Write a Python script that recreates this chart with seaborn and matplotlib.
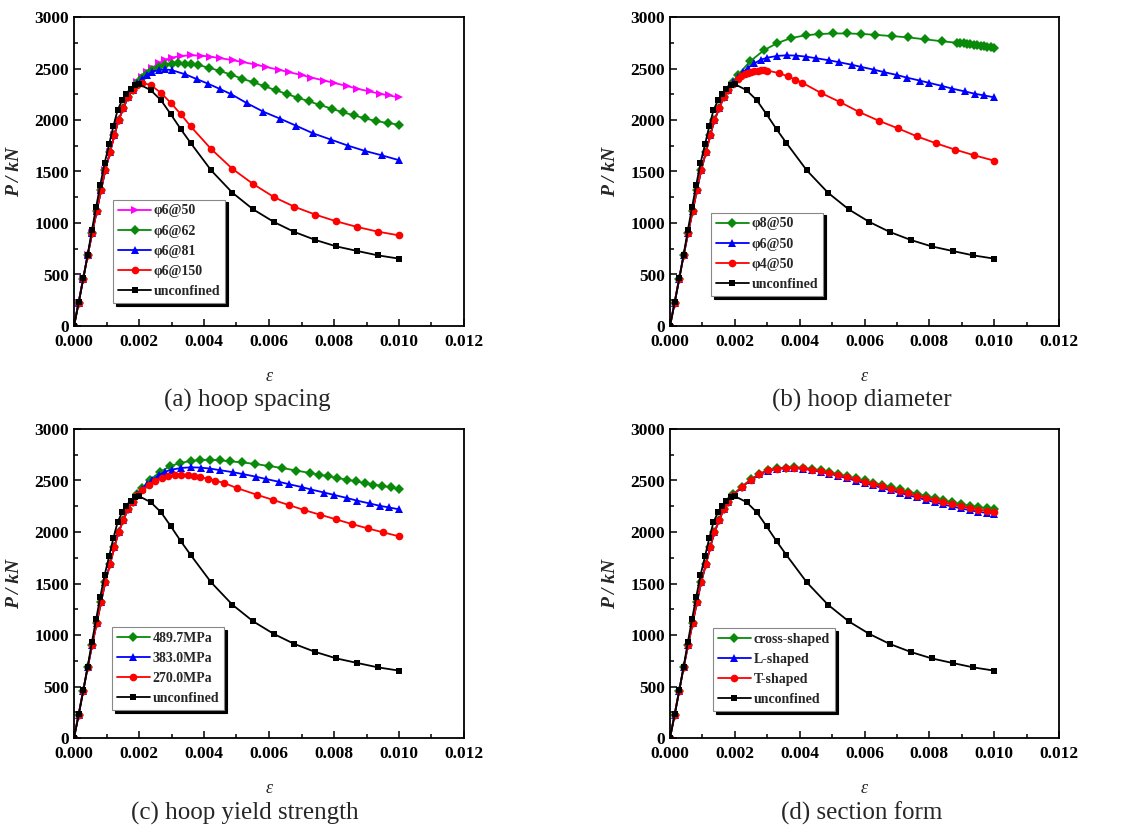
"""Load-strain curves of confined vs unconfined columns, four parameter studies."""

import matplotlib.pyplot as plt
import matplotlib.ticker as mticker
import numpy as np
import seaborn as sns

# unconfined concrete (same in every panel)
eps_unc = [0, 0.00015, 0.00029, 0.00042, 0.00055, 0.00068, 0.00081, 0.00094,
           0.00108, 0.00121, 0.00134, 0.00148, 0.00161, 0.00174, 0.00188,
           0.00201, 0.00236, 0.00268, 0.00298, 0.00329, 0.00359, 0.00422,
           0.00487, 0.00551, 0.00615, 0.00678, 0.00743, 0.00807, 0.00872,
           0.00935, 0.0100]
p_unc = [0, 233, 466, 692, 929, 1152, 1372, 1579, 1764, 1938, 2094, 2191,
         2256, 2304, 2336, 2346, 2290, 2191, 2055, 1909, 1777, 1511, 1295,
         1133, 1010, 913, 835, 773, 728, 686, 654]

# common ascending branch of the confined curves
eps_rise = [0, 0.00014, 0.00028, 0.00042, 0.00056, 0.0007, 0.00083, 0.00096,
            0.00111, 0.00124, 0.00137, 0.00152, 0.00166, 0.0018]
p_rise = [0, 225, 455, 685, 905, 1116, 1317, 1511, 1689, 1851, 1997, 2116,
          2223, 2294]

# phi6@50 / 383.0MPa
eps_50 = [0.00195, 0.0021, 0.00225, 0.0024, 0.0026, 0.0028, 0.0030, 0.0033,
          0.0036, 0.0039, 0.0042, 0.0045, 0.0049, 0.0052, 0.0056, 0.0059,
          0.0063, 0.0066, 0.0070, 0.0073, 0.0077, 0.0080, 0.0084, 0.0087,
          0.0091, 0.0094, 0.0097, 0.0100]
p_50 = [2365, 2420, 2465, 2505, 2550, 2585, 2605, 2622, 2628, 2625, 2615,
        2600, 2580, 2562, 2537, 2515, 2488, 2465, 2437, 2412, 2383, 2360,
        2330, 2305, 2277, 2255, 2238, 2220]

# phi6@62
eps_62 = [0.00195, 0.0021, 0.00225, 0.0024, 0.0026, 0.0028, 0.0030, 0.0032,
          0.0034, 0.0036, 0.0038, 0.00415, 0.00449, 0.00484, 0.00518, 0.00553,
          0.00587, 0.0062, 0.00655, 0.0069, 0.00724, 0.00758, 0.00793, 0.00827,
          0.00862, 0.00896, 0.0093, 0.00965, 0.0100]
p_62 = [2360, 2410, 2450, 2487, 2515, 2535, 2545, 2550, 2548, 2543, 2535,
        2508, 2476, 2440, 2400, 2365, 2327, 2290, 2252, 2215, 2180, 2145,
        2110, 2075, 2045, 2015, 1990, 1970, 1955]

# phi6@81
eps_81 = [0.00195, 0.0021, 0.00225, 0.0024, 0.0026, 0.0028, 0.0030, 0.00343,
          0.00377, 0.00412, 0.00449, 0.00484, 0.00531, 0.00583, 0.00634,
          0.00683, 0.00736, 0.00791, 0.00844, 0.00895, 0.00947, 0.0100]
p_81 = [2355, 2400, 2440, 2468, 2485, 2491, 2485, 2443, 2398, 2353, 2301,
        2250, 2165, 2080, 2013, 1945, 1870, 1809, 1750, 1700, 1657, 1610]

# phi6@150
eps_150 = [0.00195, 0.0021, 0.00236, 0.00268, 0.00298, 0.00329, 0.00359,
           0.00422, 0.00487, 0.00551, 0.00615, 0.00678, 0.00743, 0.00807,
           0.00872, 0.00935, 0.0100]
p_150 = [2340, 2360, 2340, 2262, 2165, 2055, 1938, 1718, 1527, 1379, 1252,
         1158, 1081, 1016, 961, 916, 880]

# phi8@50
eps_d8 = [0.00195, 0.0021, 0.00247, 0.00289, 0.00331, 0.00374, 0.00418,
          0.00461, 0.00504, 0.00547, 0.0059, 0.00633, 0.00684, 0.00735,
          0.00787, 0.00838, 0.00884, 0.00895, 0.00906, 0.00916, 0.00926,
          0.00937, 0.00947, 0.00958, 0.00968, 0.00979, 0.00989, 0.0100]
p_d8 = [2370, 2440, 2569, 2676, 2747, 2796, 2822, 2835, 2840, 2840, 2836,
        2827, 2815, 2802, 2783, 2765, 2750, 2747, 2744, 2740, 2736, 2731,
        2727, 2722, 2717, 2713, 2709, 2703]

# phi4@50
eps_d4 = [0.00195, 0.0021, 0.0022, 0.0023, 0.0024, 0.0025, 0.0026, 0.0027,
          0.0028, 0.0029, 0.0030, 0.00335, 0.00364, 0.00387, 0.00408, 0.00466,
          0.00524, 0.00584, 0.00644, 0.00703, 0.00762, 0.00822, 0.0088,
          0.00939, 0.0100]
p_d4 = [2345, 2395, 2425, 2445, 2460, 2470, 2476, 2480, 2482, 2482, 2480,
        2456, 2424, 2391, 2362, 2262, 2175, 2077, 1993, 1919, 1841, 1772,
        1712, 1657, 1605]

# 489.7MPa
eps_490 = [0.00195, 0.0021, 0.00234, 0.00265, 0.00295, 0.00326, 0.00359,
           0.00388, 0.0042, 0.00449, 0.0048, 0.00516, 0.00558, 0.00599,
           0.00641, 0.00683, 0.00726, 0.00755, 0.00783, 0.0081, 0.00839,
           0.00868, 0.00894, 0.00921, 0.00948, 0.00974, 0.0100]
p_490 = [2370, 2425, 2508, 2583, 2638, 2670, 2689, 2699, 2702, 2696, 2686,
         2676, 2660, 2641, 2621, 2597, 2573, 2557, 2540, 2524, 2508, 2492,
         2476, 2460, 2448, 2434, 2417]

# 270.0MPa
eps_270 = [0.00195, 0.0021, 0.0023, 0.0025, 0.0027, 0.0029, 0.0031, 0.0033,
           0.0035, 0.0037, 0.00388, 0.00412, 0.00435, 0.00462, 0.00501,
           0.00562, 0.00613, 0.00661, 0.00708, 0.00757, 0.00806, 0.00854,
           0.00904, 0.00952, 0.0100]
p_270 = [2355, 2405, 2455, 2495, 2525, 2542, 2551, 2553, 2550, 2543, 2534,
         2517, 2498, 2476, 2427, 2362, 2311, 2262, 2213, 2168, 2123, 2078,
         2035, 1996, 1958]

# section forms
eps_sec = [0.00195, 0.00222, 0.00249, 0.00276, 0.00303, 0.0033, 0.00357,
           0.00384, 0.00411, 0.00438, 0.00465, 0.00492, 0.00519, 0.00546,
           0.00573, 0.006, 0.00627, 0.00654, 0.00681, 0.00708, 0.00735,
           0.00762, 0.00789, 0.00816, 0.00843, 0.0087, 0.00897, 0.00924,
           0.00951, 0.00978, 0.0100]
p_cross = [2365, 2440, 2510, 2565, 2600, 2618, 2626, 2628, 2623, 2612, 2598,
           2582, 2563, 2543, 2522, 2500, 2480, 2458, 2436, 2415, 2393, 2372,
           2350, 2330, 2309, 2290, 2272, 2255, 2240, 2230, 2223]
p_lshape = [2360, 2435, 2505, 2560, 2595, 2612, 2620, 2620, 2613, 2600, 2584,
            2566, 2545, 2522, 2498, 2475, 2452, 2428, 2404, 2381, 2358, 2335,
            2312, 2290, 2268, 2248, 2230, 2212, 2196, 2185, 2175]
p_tshape = [2362, 2438, 2508, 2563, 2598, 2615, 2623, 2624, 2618, 2606, 2591,
            2574, 2554, 2532, 2510, 2488, 2466, 2443, 2420, 2398, 2376, 2354,
            2332, 2310, 2289, 2269, 2251, 2234, 2218, 2207, 2197]

MAGENTA, GREEN, BLUE, RED, BLACK = "#ff00ff", "#0a8a0a", "#0000ff", "#ff0000", "#000000"
MSIZE = {">": 6, "D": 5.5, "^": 6, "o": 5.5, "s": 5}

# (label, eps tail, P tail, color, marker) for each panel; black added last
panels = [
    ("(a) hoop spacing", [
        ("φ6@50", eps_50, p_50, MAGENTA, ">"),
        ("φ6@62", eps_62, p_62, GREEN, "D"),
        ("φ6@81", eps_81, p_81, BLUE, "^"),
        ("φ6@150", eps_150, p_150, RED, "o"),
    ], (0.10, 0.074)),
    ("(b) hoop diameter", [
        ("φ8@50", eps_d8, p_d8, GREEN, "D"),
        ("φ6@50", eps_50, p_50, BLUE, "^"),
        ("φ4@50", eps_d4, p_d4, RED, "o"),
    ], (0.105, 0.097)),
    ("(c) hoop yield strength", [
        ("489.7MPa", eps_490, p_490, GREEN, "D"),
        ("383.0MPa", eps_50, p_50, BLUE, "^"),
        ("270.0MPa", eps_270, p_270, RED, "o"),
    ], (0.097, 0.09)),
    ("(d) section form", [
        ("cross-shaped", eps_sec, p_cross, GREEN, "D"),
        ("L-shaped", eps_sec, p_lshape, BLUE, "^"),
        ("T-shaped", eps_sec, p_tshape, RED, "o"),
    ], (0.11, 0.087)),
]

sns.set_theme(style="ticks")
plt.rcParams["font.family"] = ["Liberation Serif", "DejaVu Serif"]

W, H = 1122, 830
fig = plt.figure(figsize=(W / 100, H / 100), dpi=100)
fig.patch.set_facecolor("white")

# axes boxes in pixels: left, top, width, height
boxes = [(74, 17, 390, 309), (670, 17, 389, 309),
         (74, 429, 390, 309), (670, 429, 389, 309)]
captions = [(247, 400), (862, 400), (245, 813), (862, 813)]

for (title, series, anchor), (l, t, w, h), (cx, cy) in zip(panels, boxes, captions):
    ax = fig.add_axes([l / W, 1 - (t + h) / H, w / W, h / H])
    for label, e_tail, p_tail, color, marker in series:
        xs = np.concatenate([eps_rise, e_tail])
        ys = np.concatenate([p_rise, p_tail])
        sns.lineplot(x=xs, y=ys, sort=False, ax=ax, color=color, lw=1.3,
                     marker=marker, markersize=MSIZE[marker],
                     markeredgewidth=0, label=label)
    sns.lineplot(x=eps_unc, y=p_unc, sort=False, ax=ax, color=BLACK, lw=1.3,
                 marker="s", markersize=MSIZE["s"], markeredgewidth=0,
                 label="unconfined")

    ax.set_xlim(0, 0.012)
    ax.set_ylim(0, 3000)
    ax.xaxis.set_major_locator(mticker.MultipleLocator(0.002))
    ax.xaxis.set_minor_locator(mticker.MultipleLocator(0.001))
    ax.xaxis.set_major_formatter(mticker.FormatStrFormatter("%.3f"))
    ax.yaxis.set_major_locator(mticker.MultipleLocator(500))
    ax.yaxis.set_minor_locator(mticker.MultipleLocator(250))
    ax.tick_params(which="both", direction="in", top=False, right=False,
                   labelsize=12.5, width=1.1, colors="black")
    ax.tick_params(which="major", length=5)
    ax.tick_params(which="minor", length=3)
    ax.tick_params(axis="x", pad=6)
    for lab in ax.get_xticklabels() + ax.get_yticklabels():
        lab.set_fontweight("bold")
    for sp in ax.spines.values():
        sp.set_linewidth(1.3)
        sp.set_color("black")

    ax.set_xlabel("ε", fontsize=13, fontstyle="italic", labelpad=13)
    ax.set_ylabel("P / kN", fontsize=14, fontweight="bold",
                  fontstyle="italic", labelpad=8)

    leg = ax.legend(loc="lower left", bbox_to_anchor=anchor, borderaxespad=0,
                    frameon=True, fancybox=False,
                    shadow={"color": "black", "alpha": 1},
                    edgecolor="#888888", framealpha=1, handlelength=2.4,
                    handletextpad=0.2, labelspacing=0.52, borderpad=0.35,
                    prop={"weight": "bold", "size": 10})
    leg.get_frame().set_linewidth(0.8)

    fig.text(cx / W, 1 - cy / H, title, ha="center", va="center",
             fontsize=18)

fig.savefig("out.png", dpi=100, facecolor="white")
